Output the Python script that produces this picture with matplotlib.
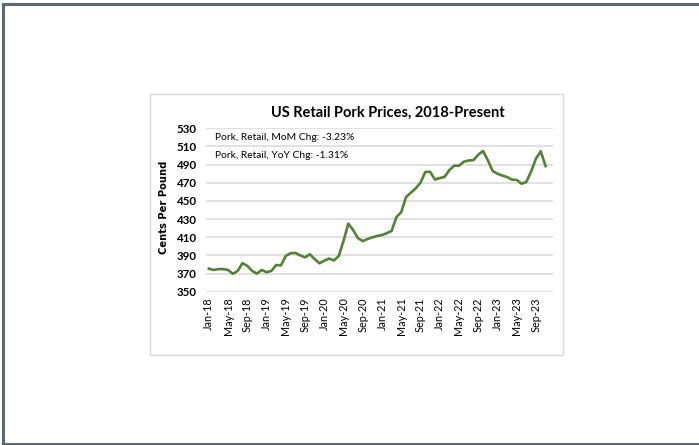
import matplotlib
matplotlib.use("Agg")
import matplotlib.pyplot as plt
from matplotlib.lines import Line2D
from matplotlib.patches import Rectangle

# monthly retail pork price, cents per pound, Jan-18 .. Nov-23
months = [f"{m}-{y}" for y in range(18, 24)
          for m in ["Jan", "Feb", "Mar", "Apr", "May", "Jun",
                    "Jul", "Aug", "Sep", "Oct", "Nov", "Dec"]]
prices = [375.5, 374.0, 375.0, 375.0, 374.0, 369.8, 373.0, 381.5, 378.5, 373.0, 370.0, 374.0,
          371.5, 373.0, 379.5, 379.0, 389.5, 392.5, 392.8, 390.0, 388.0, 391.3, 386.0, 381.4,
          384.2, 386.6, 384.5, 389.3, 406.0, 425.0, 418.0, 409.0, 405.8, 408.2, 409.9, 411.5,
          412.5, 414.5, 417.0, 432.3, 437.7, 454.3, 459.1, 463.8, 470.0, 481.9, 482.1, 473.6,
          475.2, 476.5, 483.9, 488.8, 488.8, 493.1, 494.5, 494.9, 500.8, 505.0, 494.9, 483.0,
          480.0, 478.0, 476.3, 473.5, 473.2, 469.0, 470.8, 482.5, 496.5, 504.7, 488.4]
yticks = [350, 370, 390, 410, 430, 450, 470, 490, 510, 530]
notes = ["Pork, Retail, MoM Chg: -3.23%", "Pork, Retail, YoY Chg: -1.31%"]

fig = plt.figure(figsize=(6.99, 4.45), dpi=100)

# page frame and chart box
for xs, ys in [([0.005, 0.005], [0.003, 0.992]), ([0.005, 1.0], [0.992, 0.992]),
               ([0.005, 1.0], [0.003, 0.003])]:
    fig.add_artist(Line2D(xs, ys, color="#5c6872", lw=2.2, transform=fig.transFigure))
fig.add_artist(Rectangle((0.2149, 0.2016), 0.590, 0.5865, transform=fig.transFigure,
                         fill=False, edgecolor="#d9d9d9", lw=1.0))

ax = fig.add_axes([0.2953, 0.3443, 0.4955, 0.3674])
x = list(range(len(prices)))
ax.plot(x, prices, color="#548235", lw=1.9, solid_joinstyle="round")

ax.set_xlim(-0.5, len(months) - 0.5)
ax.set_ylim(350, 530)
ax.set_yticks(yticks)
ax.set_yticklabels([str(v) for v in yticks], fontfamily="Lato", fontweight="bold", fontsize=8.3)
ax.set_xticks(x[::4])
ax.set_xticklabels(months[:len(prices):4], rotation=90, fontfamily="Lato", fontsize=7.8)
ax.tick_params(axis="y", length=0, pad=7)
ax.tick_params(axis="x", length=0, pad=4)
ax.grid(axis="y", color="#d9d9d9", lw=1.1)
ax.set_axisbelow(True)
for s in ax.spines.values():
    s.set_visible(False)

fig.text(0.555, 0.746, "US Retail Pork Prices, 2018-Present", ha="center", va="center",
         fontfamily="Lato", fontweight="bold", fontsize=10.5)
fig.text(0.234, 0.535, "Cents Per Pound", rotation=90, ha="center", va="center",
         fontfamily="DejaVu Sans", fontweight="bold", fontsize=7.2)
for i, t in enumerate(notes):
    fig.text(0.3076, 1 - (137.7 + 18 * i) / 445, t, ha="left", va="center",
             fontfamily="Lato", fontsize=7.4)

fig.savefig("out.png", dpi=100)
